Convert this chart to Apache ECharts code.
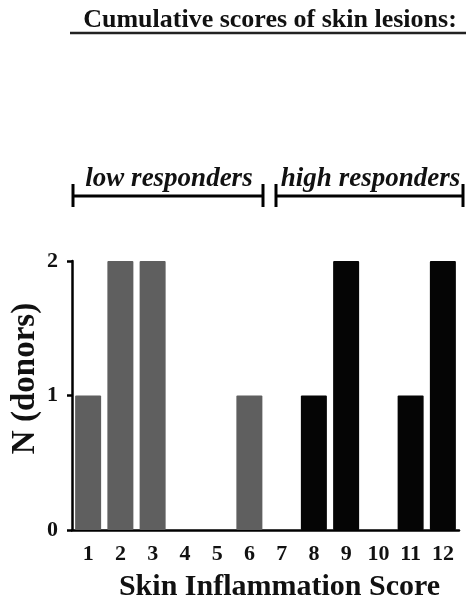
<!DOCTYPE html>
<html>
<head>
<meta charset="utf-8">
<script src="https://cdn.jsdelivr.net/npm/echarts@6/dist/echarts.min.js"></script>
<style>
html, body { margin: 0; padding: 0; background: #fff; }
#main { width: 466px; height: 602px; }
</style>
</head>
<body>
<div id="main"></div>
<script>
// 数据
var scores = ['1', '2', '3', '4', '5', '6', '7', '8', '9', '10', '11', '12'];
var lowDonors = [1, 2, 2, 0, 0, 1, null, null, null, null, null, null];
var highDonors = [null, null, null, null, null, null, 0, 1, 2, 0, 1, 2];
var yTicks = [0, 1, 2];
var groups = [
    { name: 'low responders', from: 0, to: 5 },
    { name: 'high responders', from: 6, to: 11 }
];

var font = '"Liberation Serif", "Times New Roman", serif';
var myChart = echarts.init(document.getElementById('main'));

myChart.setOption({
    animation: false,
    title: {
        text: 'Cumulative scores of skin lesions:',
        left: 265,
        top: 2,
        textAlign: 'center',
        textStyle: { fontFamily: font, fontWeight: 'bold', fontSize: 26, color: '#111' }
    },
    grid: { left: 72, right: 7, top: 261, bottom: 72, outerBoundsMode: 'none', containLabel: false },
    xAxis: {
        type: 'category',
        data: scores,
        name: 'Skin Inflammation Score',
        nameLocation: 'middle',
        nameGap: 42,
        nameMoveOverlap: false,
        nameTextStyle: { fontFamily: font, fontWeight: 'bold', fontSize: 30, color: '#111', padding: [0, 0, 0, 28] },
        axisLine: { lineStyle: { color: '#000', width: 2.5 } },
        axisTick: { alignWithLabel: true, length: 6, lineStyle: { color: '#000', width: 2.5 } },
        axisLabel: { fontFamily: font, fontWeight: 'bold', fontSize: 22, color: '#111', margin: 13 }
    },
    yAxis: {
        type: 'value',
        min: yTicks[0],
        max: yTicks[yTicks.length - 1],
        interval: 1,
        name: 'N (donors)',
        nameLocation: 'middle',
        nameGap: 30,
        nameMoveOverlap: false,
        nameTextStyle: { fontFamily: font, fontWeight: 'bold', fontSize: 33, color: '#111', padding: [0, 0, 0, 34] },
        splitLine: { show: false },
        axisLine: { show: true, lineStyle: { color: '#000', width: 2.5 } },
        axisTick: { show: true, length: 5, lineStyle: { color: '#000', width: 2.5 } },
        axisLabel: { fontFamily: font, fontWeight: 'bold', fontSize: 22, color: '#111', margin: 14 }
    },
    series: [
        {
            type: 'bar',
            data: lowDonors,
            barWidth: 26,
            barGap: '-100%',
            itemStyle: { color: '#5f5f5f', borderRadius: 1 }
        },
        {
            type: 'bar',
            data: highDonors,
            barWidth: 26,
            itemStyle: { color: '#050505', borderRadius: 1 }
        }
    ]
});

// 分组括号
function drawBrackets() {
    var c0 = myChart.convertToPixel({ xAxisIndex: 0 }, 0);
    var c1 = myChart.convertToPixel({ xAxisIndex: 0 }, 1);
    var band = c1 - c0;
    var y = 196;
    var elements = [
        {
            type: 'line',
            shape: { x1: 70, y1: 33, x2: 466, y2: 33 },
            style: { stroke: '#222', lineWidth: 2.5 }
        }
    ];
    groups.forEach(function (g, i) {
        var x1 = myChart.convertToPixel({ xAxisIndex: 0 }, g.from) - band / 2 + (i == 0 ? 1 : 10.5);
        var x2 = myChart.convertToPixel({ xAxisIndex: 0 }, g.to) + band / 2 + (i == 0 ? -2.5 : 4);
        x2 = Math.min(x2, 464);
        elements.push({
            type: 'line',
            shape: { x1: x1, y1: y, x2: x2, y2: y },
            style: { stroke: '#000', lineWidth: 3 }
        });
        elements.push({
            type: 'line',
            shape: { x1: x1, y1: y - 12, x2: x1, y2: y + 11 },
            style: { stroke: '#000', lineWidth: 3 }
        });
        elements.push({
            type: 'line',
            shape: { x1: x2, y1: y - 12, x2: x2, y2: y + 11 },
            style: { stroke: '#000', lineWidth: 3 }
        });
        elements.push({
            type: 'text',
            x: (x1 + x2) / 2 + 1,
            y: y - 3,
            style: {
                text: g.name,
                align: 'center',
                verticalAlign: 'bottom',
                font: 'italic bold 27px ' + font,
                fill: '#111'
            }
        });
    });
    myChart.setOption({ graphic: elements });
}
drawBrackets();
</script>
</body>
</html>
